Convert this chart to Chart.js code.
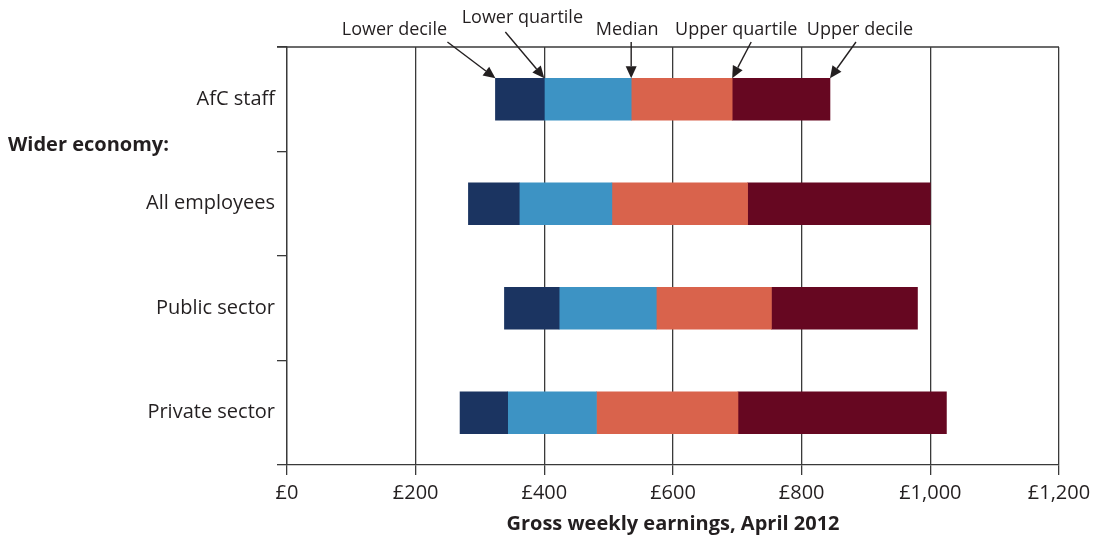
<!DOCTYPE html>
<html>
<head>
<meta charset="utf-8">
<script src="https://cdn.jsdelivr.net/npm/chart.js@4.4.0/dist/chart.umd.min.js"></script>
<style>
  html, body { margin: 0; padding: 0; background: #fff; }
  #wrap { width: 1099px; height: 540px; }
</style>
</head>
<body>
<div id="wrap"><canvas id="chart" width="1099" height="540"></canvas></div>
<script>
// ---- Data (gross weekly earnings, April 2012, £) ----
const categories = ["AfC staff", "All employees", "Public sector", "Private sector"];
const lowerDecile   = [324, 282, 338, 269];
const lowerQuartile = [400, 361, 423, 343];
const median        = [535, 505, 574, 481];
const upperQuartile = [692, 716, 753, 701];
const upperDecile   = [844, 1000, 980, 1025];
const xTicks = [0, 200, 400, 600, 800, 1000, 1200];

// arrow labels over the first bar
const markerLabels = ["Lower decile", "Lower quartile", "Median", "Upper quartile", "Upper decile"];
const markerSeries = [lowerDecile, lowerQuartile, median, upperQuartile, upperDecile];

const INK = "#231f20";
const LINE = "#3a3a3a";
const FONT = "'Open Sans', 'Noto Sans', sans-serif";

function span(a, b) { return a.map((v, i) => [v, b[i]]); }

// text + arrow offsets relative to the arrow tip (label dx, label y, tail dx, tail y)
const markerLayout = [
  { tx: -101, ty: 30, sx: -48, sy: 42 },
  { tx: -22,  ty: 18, sx: -39, sy: 32 },
  { tx: -4,   ty: 30, sx: 0,   sy: 42 },
  { tx: 4,    ty: 30, sx: 19,  sy: 42 },
  { tx: 30,   ty: 30, sx: 26,  sy: 42 }
];

function arrow(ctx, x0, y0, x1, y1) {
  const ang = Math.atan2(y1 - y0, x1 - x0);
  const len = 12, half = 5.5;
  const bx = x1 - Math.cos(ang) * len, by = y1 - Math.sin(ang) * len;
  ctx.beginPath();
  ctx.moveTo(x0, y0);
  ctx.lineTo(bx, by);
  ctx.stroke();
  ctx.beginPath();
  ctx.moveTo(x1, y1);
  ctx.lineTo(bx + Math.sin(ang) * half, by - Math.cos(ang) * half);
  ctx.lineTo(bx - Math.sin(ang) * half, by + Math.cos(ang) * half);
  ctx.closePath();
  ctx.fill();
}

const extras = {
  id: "extras",
  afterDraw(chart) {
    const { ctx, chartArea: a, scales: { x, y } } = chart;
    ctx.save();
    // top frame line
    ctx.strokeStyle = LINE;
    ctx.lineWidth = 1.3;
    ctx.beginPath();
    ctx.moveTo(a.left - 10, a.top);
    ctx.lineTo(a.right, a.top);
    ctx.stroke();

    // "Wider economy:" group heading
    const mid = (y.getPixelForValue(0) + y.getPixelForValue(1)) / 2;
    ctx.fillStyle = INK;
    ctx.font = "bold 20px " + FONT;
    ctx.textAlign = "left";
    ctx.textBaseline = "middle";
    ctx.fillText("Wider economy:", 8, mid - 6);

    // arrows pointing at the first bar's boundaries
    const meta = chart.getDatasetMeta(0).data[0];
    const barTop = meta.y - meta.height / 2;
    ctx.font = "18px " + FONT;
    ctx.textAlign = "center";
    ctx.strokeStyle = INK;
    ctx.lineWidth = 1.4;
    markerSeries.forEach((s, i) => {
      const px = x.getPixelForValue(s[0]);
      const L = markerLayout[i];
      ctx.fillText(markerLabels[i], px + L.tx, L.ty);
      arrow(ctx, px + L.sx, L.sy, px, barTop);
    });
    ctx.restore();
  }
};

const bar = (label, data, color) => ({
  label, data, backgroundColor: color, borderWidth: 0,
  grouped: false, barThickness: 42
});

new Chart(document.getElementById("chart"), {
  type: "bar",
  data: {
    labels: categories,
    datasets: [
      bar("Lower decile to lower quartile", span(lowerDecile, lowerQuartile), "#1b3461"),
      bar("Lower quartile to median", span(lowerQuartile, median), "#3d93c4"),
      bar("Median to upper quartile", span(median, upperQuartile), "#d9634c"),
      bar("Upper quartile to upper decile", span(upperQuartile, upperDecile), "#660721")
    ]
  },
  options: {
    indexAxis: "y",
    responsive: false,
    animation: false,
    layout: { padding: { top: 47, right: 40, left: 0, bottom: 0 } },
    plugins: { legend: { display: false }, tooltip: { enabled: false } },
    scales: {
      x: {
        min: 0, max: 1200,
        afterBuildTicks: s => { s.ticks = xTicks.map(v => ({ value: v })); },
        afterFit: s => { s.height = 75; },
        grid: { color: LINE, lineWidth: 1.3, tickLength: 10, drawTicks: true },
        border: { color: LINE, width: 1.3 },
        ticks: {
          color: INK, padding: 6, font: { family: FONT, size: 20 },
          callback: v => "£" + Number(v).toLocaleString("en-GB")
        },
        title: {
          display: true, text: "Gross weekly earnings, April 2012",
          color: INK, font: { family: FONT, size: 20, weight: "bold" }, padding: { top: 0, bottom: 4 }
        }
      },
      y: {
        afterFit: s => { s.width = 287; },
        grid: { color: LINE, lineWidth: 1.3, drawOnChartArea: false, tickLength: 10, offset: true },
        border: { color: LINE, width: 1.3 },
        ticks: { color: INK, padding: 2, font: { family: FONT, size: 20 } }
      }
    }
  },
  plugins: [extras]
});
</script>
</body>
</html>
